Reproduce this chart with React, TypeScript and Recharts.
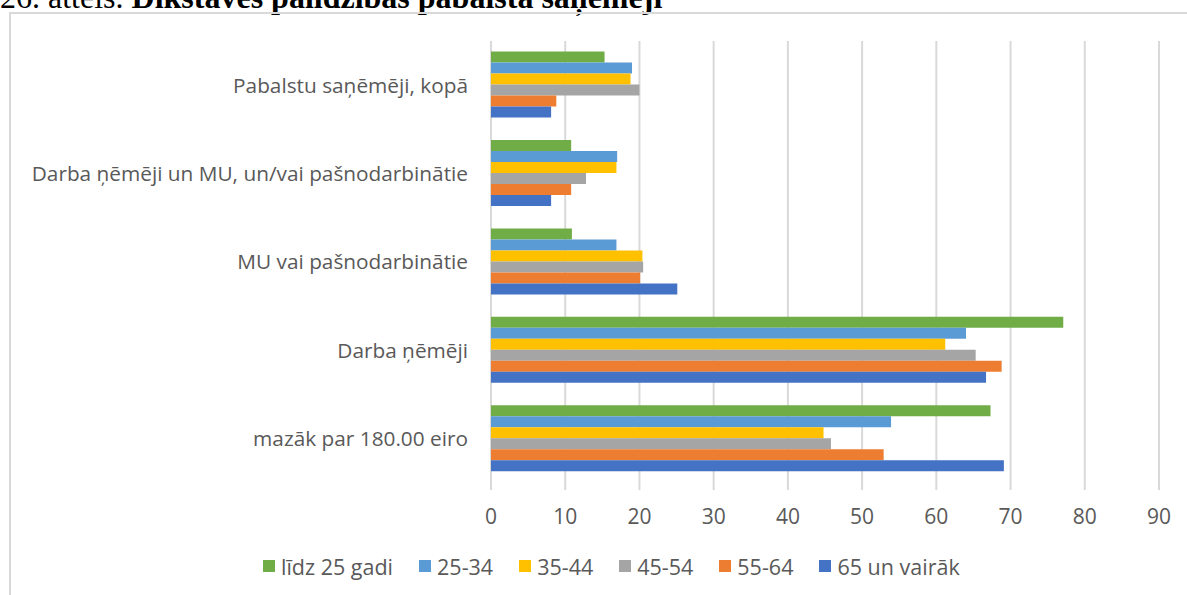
import { BarChart, Bar, XAxis, YAxis, CartesianGrid, Legend } from "recharts";

const categories = [
  "Pabalstu saņēmēji, kopā",
  "Darba ņēmēji un MU, un/vai pašnodarbinātie",
  "MU vai pašnodarbinātie",
  "Darba ņēmēji",
  "mazāk par 180.00 eiro",
];

const lidz25 = [15.3, 10.8, 10.9, 77.1, 67.3];
const g25_34 = [19.0, 17.0, 16.9, 64.0, 53.9];
const g35_44 = [18.8, 16.9, 20.4, 61.2, 44.8];
const g45_54 = [20.0, 12.8, 20.5, 65.3, 45.8];
const g55_64 = [8.8, 10.8, 20.1, 68.8, 52.9];
const g65plus = [8.1, 8.1, 25.1, 66.7, 69.1];

const xTicks = [0, 10, 20, 30, 40, 50, 60, 70, 80, 90];

const series = [
  { key: "lidz25", name: "līdz 25 gadi", color: "#70AD47", values: lidz25 },
  { key: "g25_34", name: "25-34", color: "#5B9BD5", values: g25_34 },
  { key: "g35_44", name: "35-44", color: "#FFC000", values: g35_44 },
  { key: "g45_54", name: "45-54", color: "#A5A5A5", values: g45_54 },
  { key: "g55_64", name: "55-64", color: "#ED7D31", values: g55_64 },
  { key: "g65plus", name: "65 un vairāk", color: "#4472C4", values: g65plus },
];

const data = categories.map((cat, i) => {
  const row: Record<string, string | number> = { cat };
  series.forEach((s) => {
    row[s.key] = s.values[i];
  });
  return row;
});

const font = "'Open Sans', sans-serif";

// legend in series order (recharts would sort it by name otherwise)
const renderLegend = () => (
  <div
    style={{
      display: "flex",
      alignItems: "center",
      height: 30,
      paddingLeft: 263,
      fontFamily: font,
      fontSize: 21.5,
      color: "#595959",
      whiteSpace: "nowrap",
    }}
  >
    {series.map((s) => (
      <div key={s.key} style={{ display: "flex", alignItems: "center", marginRight: 26 }}>
        <span style={{ width: 12, height: 12, background: s.color, marginRight: 6, display: "inline-block" }} />
        <span>{s.name}</span>
      </div>
    ))}
  </div>
);

export default function App() {
  return (
    <div style={{ position: "absolute", left: 0, top: 0, width: 1187, height: 595, overflow: "hidden", background: "#fff" }}>
      <div
        style={{
          position: "absolute",
          left: 0,
          top: -21,
          fontFamily: "'Liberation Serif', 'Times New Roman', serif",
          fontSize: 32,
          whiteSpace: "nowrap",
          color: "#000",
        }}
      >
        26. attēls. <b>Dīkstāves palīdzības pabalsta saņēmēji</b>
      </div>
      <div
        style={{
          position: "absolute",
          left: 9,
          top: 12,
          width: 1200,
          height: 620,
          borderLeft: "2px solid #d9d9d9",
          borderTop: "2px solid #d9d9d9",
        }}
      />
      <div style={{ position: "absolute", left: 0, top: 0 }}>
        <BarChart
          width={1187}
          height={595}
          data={data}
          layout="vertical"
          margin={{ top: 41, right: 28, bottom: 0, left: 0 }}
          barCategoryGap="12%"
          barGap={0}
        >
          <CartesianGrid horizontal={false} stroke="#d9d9d9" strokeWidth={2} />
          <XAxis
            type="number"
            domain={[0, 90]}
            ticks={xTicks}
            axisLine={false}
            tickLine={{ stroke: "#d9d9d9", strokeWidth: 2 }}
            tickSize={7}
            tickMargin={19}
            height={82}
            tick={{ fill: "#595959", fontSize: 21, fontFamily: font }}
          />
          <YAxis
            type="category"
            dataKey="cat"
            width={491}
            axisLine={false}
            tickLine={false}
            tickSize={0}
            tickMargin={23}
            tick={{ fill: "#595959", fontSize: 20.8, fontFamily: font }}
          />
          <Legend
            content={renderLegend}
            wrapperStyle={{ top: 551, left: 0, width: 1187, height: 30 }}
          />
          {series.map((s) => (
            <Bar key={s.key} dataKey={s.key} name={s.name} fill={s.color} isAnimationActive={false} />
          ))}
        </BarChart>
      </div>
    </div>
  );
}
